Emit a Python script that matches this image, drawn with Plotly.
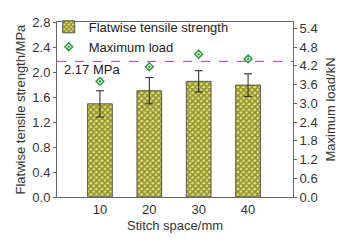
import plotly.graph_objects as go

stitch = [10, 20, 30, 40]
strength = [1.49, 1.70, 1.85, 1.79]
strength_err = [0.21, 0.21, 0.17, 0.18]
max_load = [3.70, 4.17, 4.57, 4.42]
ref_line = 2.17
left_ticks = [0.0, 0.4, 0.8, 1.2, 1.6, 2.0, 2.4, 2.8]
right_ticks = [0.0, 0.6, 1.2, 1.8, 2.4, 3.0, 3.6, 4.2, 4.8, 5.4]

W, H = 342, 240
L, R, T, B = 57, 49, 17, 43
PW = W - L - R
PH = H - T - B

fig = go.Figure()
fig.add_trace(go.Bar(
    x=stitch, y=strength, width=5, name="Flatwise tensile strength",
    marker=dict(color="#e8e85a", line=dict(color="#555555", width=1),
                pattern=dict(shape="x", fgcolor="#333328", bgcolor="#e8e85a", size=4, solidity=0.65)),
    error_y=dict(type="data", array=strength_err, color="#222222", thickness=1, width=4),
))
fig.add_trace(go.Scatter(
    x=stitch, y=max_load, yaxis="y2", mode="markers", name="Maximum load",
    marker=dict(symbol="diamond-open-dot", color="#2e9a3a", size=6, line=dict(width=1.5)),
))
fig.add_shape(type="line", xref="paper", x0=0, x1=1, yref="y", y0=ref_line, y1=ref_line,
              line=dict(color="#b040b0", width=1, dash="dash"))
fig.add_annotation(xref="paper", x=0.02, yref="y", y=2.04, text=f"{ref_line} MPa",
                   showarrow=False, xanchor="left", font=dict(size=13, color="#222"))

axis_font = dict(family="Liberation Sans, Arial", size=13, color="#333")
fig.add_annotation(xref="paper", yref="paper", x=(20 - L) / PW, y=0.5, xanchor="center", yanchor="middle",
                   text="Flatwise tensile strength/MPa", textangle=-90, showarrow=False, font=axis_font)
fig.add_annotation(xref="paper", yref="paper", x=(330 - L) / PW, y=0.5, xanchor="center", yanchor="middle",
                   text="Maximum load/kN", textangle=-90, showarrow=False, font=axis_font)
fig.add_annotation(xref="paper", yref="paper", x=0.5, y=-(226 - (T + PH)) / PH, xanchor="center", yanchor="middle",
                   text="Stitch space/mm", showarrow=False, font=axis_font)

fig.update_layout(
    width=W, height=H, margin=dict(l=L, r=R, t=T, b=B),
    plot_bgcolor="white", paper_bgcolor="white",
    font=axis_font,
    showlegend=True,
    legend=dict(x=-0.035, y=1.058, xanchor="left", yanchor="top", bgcolor="rgba(0,0,0,0)",
                font=dict(size=13, color="#222"), tracegroupgap=0, itemwidth=30),
    xaxis=dict(range=[1.3, 49.1], tickvals=stitch, ticktext=[str(s) for s in stitch],
               showline=True, linecolor="#666", mirror=True, ticks="", showgrid=False,
               automargin=False, zeroline=False),
    yaxis=dict(range=[0, 2.8], tickvals=left_ticks, ticktext=[f"{v:.1f}" for v in left_ticks],
               showline=True, linecolor="#666", ticks="outside", ticklen=3, tickcolor="#666",
               showgrid=False, zeroline=False, automargin=False),
    yaxis2=dict(range=[0, 5.6], overlaying="y", side="right", tickvals=right_ticks,
                ticktext=[f"{v:.1f}" for v in right_ticks],
                showline=True, linecolor="#666", ticks="outside", ticklen=3, tickcolor="#666",
                showgrid=False, zeroline=False, automargin=False),
)
fig.write_html("out.html", config={"displayModeBar": False},
               post_script="document.body.style.margin='0';document.body.style.overflow='hidden';")
